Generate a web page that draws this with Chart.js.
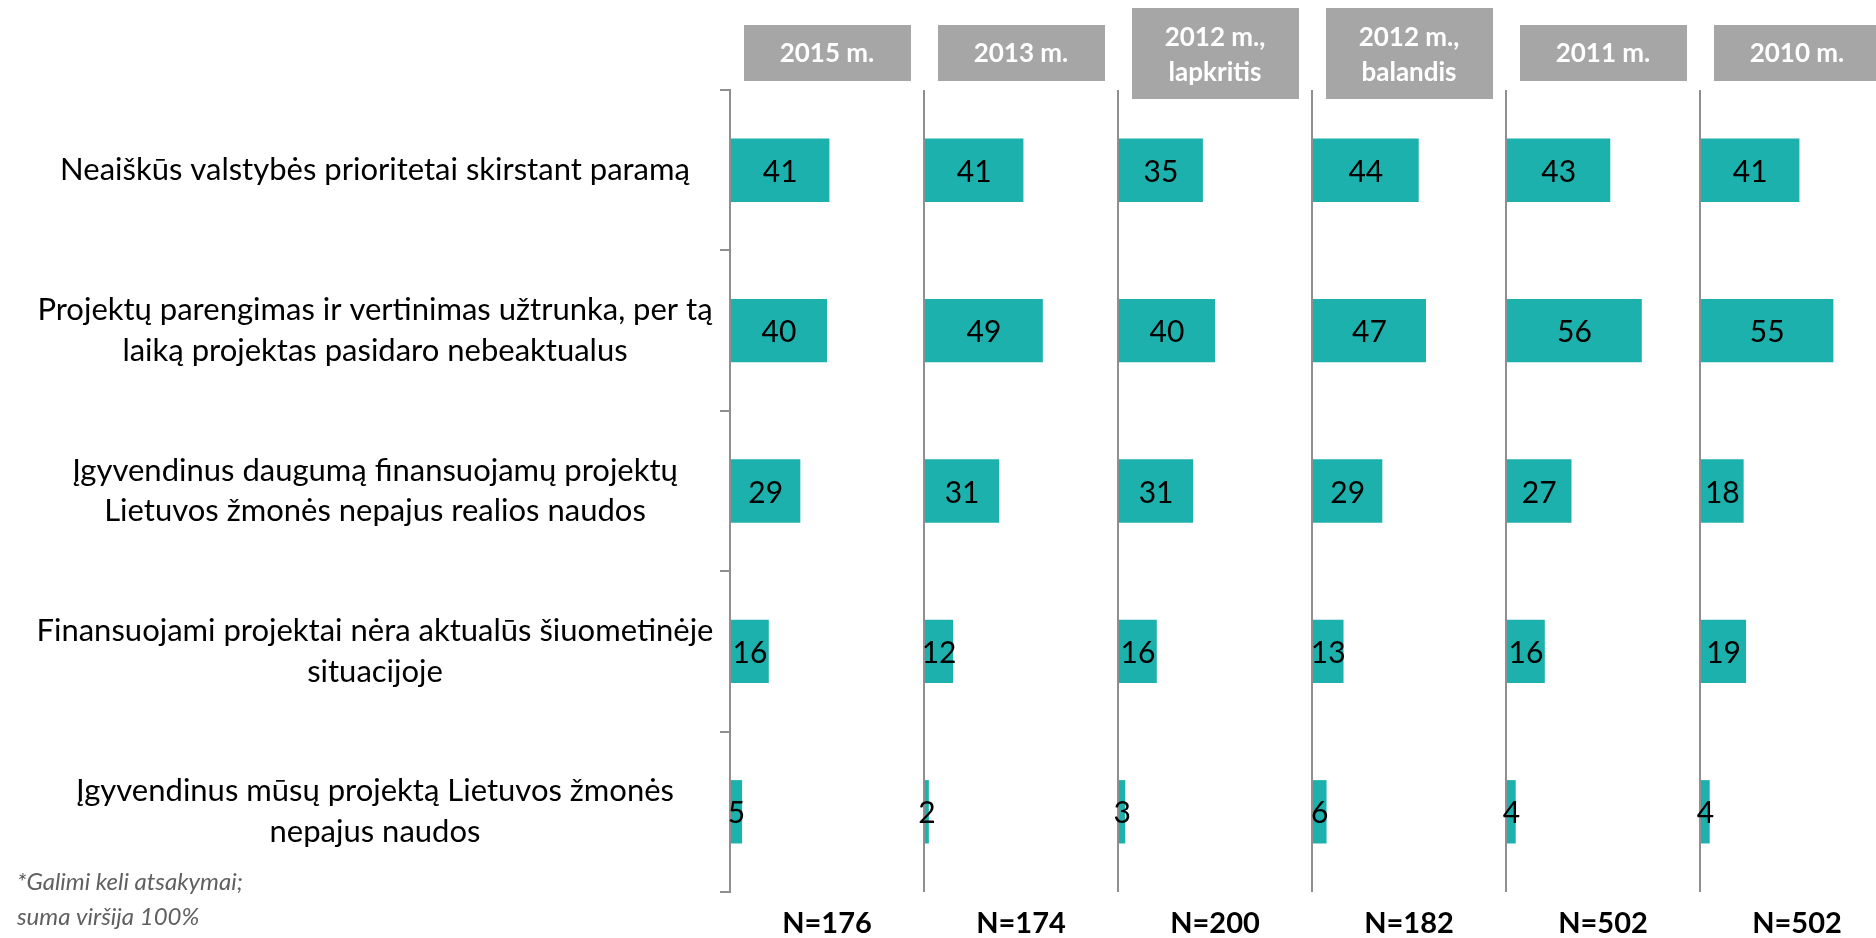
<!DOCTYPE html>
<html lang="lt">
<head>
<meta charset="utf-8">
<title>Kliūtys</title>
<script src="https://cdn.jsdelivr.net/npm/chart.js@4.4.1/dist/chart.umd.min.js"></script>
<style>
  html, body { margin: 0; padding: 0; background: #fff; overflow: hidden; }
  #wrap { width: 1894px; height: 938px; }
</style>
</head>
<body>
<div id="wrap"><canvas id="reasonsChart" width="1894" height="938"></canvas></div>
<script>
// Categories (answers)
const categories = [
  "Neaiškūs valstybės prioritetai skirstant paramą",
  ["Projektų parengimas ir vertinimas užtrunka, per tą", "laiką projektas pasidaro nebeaktualus"],
  ["Įgyvendinus daugumą finansuojamų projektų", "Lietuvos žmonės nepajus realios naudos"],
  ["Finansuojami projektai nėra aktualūs šiuometinėje", "situacijoje"],
  ["Įgyvendinus mūsų projektą Lietuvos žmonės", "nepajus naudos"],
];

// Survey waves
const waveLabels = [
  ["2015 m."],
  ["2013 m."],
  ["2012 m.,", "lapkritis"],
  ["2012 m.,", "balandis"],
  ["2011 m."],
  ["2010 m."],
];
const sampleSizes = ["N=176", "N=174", "N=200", "N=182", "N=502", "N=502"];

// Values per wave, %
const values2015 = [41, 40, 29, 16, 5];
const values2013 = [41, 49, 31, 12, 2];
const values2012Nov = [35, 40, 31, 16, 3];
const values2012Apr = [44, 47, 29, 13, 6];
const values2011 = [43, 56, 27, 16, 4];
const values2010 = [41, 55, 18, 19, 4];
const waveValues = [values2015, values2013, values2012Nov, values2012Apr, values2011, values2010];

const panelMax = 80;
const footnote = ["*Galimi keli atsakymai;", "suma viršija 100%"];

document.addEventListener("DOMContentLoaded", function () {
  const teal = "#1cb1ad";
  const axisGray = "#8f8f8f";
  const labelFont = "31px Lato";

  // centre the category labels around x≈375
  const measure = document.createElement("canvas").getContext("2d");
  measure.font = labelFont;
  let widest = 0;
  categories.forEach(function (c) {
    [].concat(c).forEach(function (line) {
      widest = Math.max(widest, measure.measureText(line).width);
    });
  });
  const yPadding = Math.max(0, 720 - 375 - widest / 2);

  const datasets = waveValues.map(function (vals, i) {
    return {
      label: waveLabels[i].join(" "),
      data: vals,
      xAxisID: "x" + i,
      backgroundColor: teal,
      borderWidth: 0,
      grouped: false,
      barPercentage: 0.395,
      categoryPercentage: 1,
    };
  });

  const scales = {
    y: {
      position: "left",
      afterFit: function (scale) {
        scale.width = 730;
        // label padding is only meant sideways
        scale.paddingTop = 0;
        scale.paddingBottom = 0;
      },
      border: { color: axisGray, width: 2 },
      grid: {
        offset: true,
        drawOnChartArea: false,
        color: axisGray,
        lineWidth: 2,
        tickLength: 10,
      },
      ticks: {
        crossAlign: "center",
        padding: yPadding,
        color: "#000",
        font: { family: "Lato", size: 31, lineHeight: 1.32 },
      },
    },
  };
  waveValues.forEach(function (vals, i) {
    scales["x" + i] = {
      type: "linear",
      axis: "x",
      position: "bottom",
      stack: "waves",
      stackWeight: 1,
      min: 0,
      max: panelMax,
      border: { display: false },
      grid: {
        drawTicks: false,
        lineWidth: 2,
        color: function (ctx) {
          return ctx.tick && ctx.tick.value === 0 ? axisGray : "rgba(0,0,0,0)";
        },
      },
      ticks: { display: false, stepSize: panelMax },
      title: {
        display: true,
        text: sampleSizes[i],
        color: "#000",
        font: { family: "Lato", size: 29, weight: "bold", lineHeight: 1 },
        padding: { top: 17, bottom: 0 },
      },
    };
  });

  // value labels centred on each bar
  const valueLabels = {
    id: "valueLabels",
    afterDatasetsDraw: function (chart) {
      const ctx = chart.ctx;
      ctx.save();
      ctx.font = "30px Lato";
      ctx.fillStyle = "#000";
      ctx.textAlign = "center";
      ctx.textBaseline = "middle";
      chart.data.datasets.forEach(function (ds, i) {
        chart.getDatasetMeta(i).data.forEach(function (bar, j) {
          const c = bar.getCenterPoint();
          ctx.fillText(String(ds.data[j]), c.x, c.y + 2);
        });
      });
      ctx.restore();
    },
  };

  // grey wave headers above each panel + footnote
  const headers = {
    id: "headers",
    afterDraw: function (chart) {
      const ctx = chart.ctx;
      ctx.save();
      waveLabels.forEach(function (lines, i) {
        const sc = chart.scales["x" + i];
        const cx = (sc.left + sc.right) / 2;
        const two = lines.length > 1;
        const top = two ? 8 : 25;
        const h = two ? 91 : 56;
        ctx.fillStyle = "#a6a6a6";
        ctx.fillRect(cx - 83, top, 167, h);
        ctx.fillStyle = "#fff";
        ctx.font = "bold 26px Lato";
        ctx.textAlign = "center";
        ctx.textBaseline = "middle";
        if (two) {
          ctx.fillText(lines[0], cx, top + 30);
          ctx.fillText(lines[1], cx, top + 65);
        } else {
          ctx.fillText(lines[0], cx, top + h / 2 + 1);
        }
      });
      ctx.fillStyle = "#606060";
      ctx.font = "italic 24px Lato";
      ctx.textAlign = "left";
      ctx.textBaseline = "middle";
      ctx.fillText(footnote[0], 17, 882);
      ctx.fillText(footnote[1], 17, 917);
      ctx.restore();
    },
  };

  new Chart(document.getElementById("reasonsChart"), {
    type: "bar",
    data: { labels: categories, datasets: datasets },
    options: {
      indexAxis: "y",
      responsive: false,
      animation: false,
      layout: { padding: { top: 90, right: 0, bottom: 0, left: 0 } },
      scales: scales,
      plugins: {
        legend: { display: false },
        tooltip: { enabled: false },
      },
    },
    plugins: [valueLabels, headers],
  });
});
</script>
</body>
</html>
